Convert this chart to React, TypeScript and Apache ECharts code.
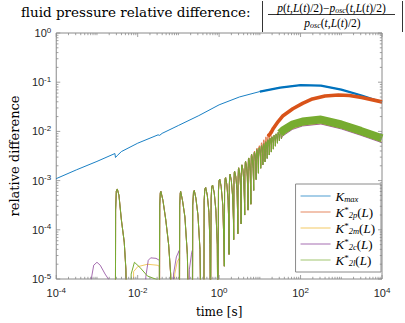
import React, { useEffect, useRef } from "react";
import * as echarts from "echarts";

// ---- axis ranges (log10 units) ----
const X_MIN = -4;
const X_MAX = 4;
const Y_MIN = -5;
const Y_MAX = 0;
const X_LABEL_STEP = 2;
const Y_LABEL_STEP = 1;

// ---- series values: [log10(time [s]), log10(relative difference)] ----
const kmaxLog: number[][] = [
  [-4, -2.96], [-3.5, -2.78], [-3, -2.61], [-2.56, -2.45], [-2.545, -2.53], [-2.5, -2.49],
  [-2.4, -2.41], [-2, -2.24], [-1.5, -2.07], [-1.46, -2.08], [-1.4, -2.04], [-1, -1.88],
  [-0.5, -1.68], [0, -1.46], [0.5, -1.3], [1, -1.19], [1.5, -1.11], [2, -1.06],
  [2.5, -1.07], [3, -1.15], [3.5, -1.27], [4, -1.41],
];

// first arch (common to the K* curves)
const archesA: number[][] = [
  [-2.548, -6], [-2.542, -3.6], [-2.525, -3.22], [-2.5, -3.17], [-2.46, -3.3], [-2.4, -3.8],
  [-2.33, -4.25], [-2.29, -4.8], [-2.265, -6],
];
// second arch
const archesB: number[][] = [
  [-1.465, -6], [-1.458, -3.5], [-1.445, -3.25], [-1.43, -3.22], [-1.38, -3.4], [-1.31, -3.8],
  [-1.24, -4.3], [-1.19, -4.9], [-1.17, -6],
];
// third arch
const archesC: number[][] = [
  [-0.975, -6], [-0.968, -3.5], [-0.955, -3.26], [-0.945, -3.22], [-0.9, -3.4], [-0.84, -3.74],
  [-0.78, -4.5], [-0.745, -6],
];
// arches 4..14
const archesD: number[][] = [
  [-0.655, -6], [-0.648, -3.5], [-0.63, -3.24], [-0.61, -3.2], [-0.57, -3.36], [-0.52, -3.7], [-0.47, -4.4], [-0.445, -6],
  [-0.375, -6], [-0.368, -3.4], [-0.35, -3.17], [-0.33, -3.14], [-0.29, -3.3], [-0.25, -3.65], [-0.225, -4.3], [-0.212, -6],
  [-0.202, -6], [-0.196, -3.35], [-0.18, -3.12], [-0.16, -3.09], [-0.12, -3.25], [-0.08, -3.6], [-0.045, -4.3], [-0.03, -6],
  [-0.022, -6], [-0.016, -3.2], [0, -3.0], [0.015, -2.97], [0.05, -3.12], [0.09, -3.5], [0.115, -4.2], [0.128, -4.74],
  [0.134, -3.2], [0.148, -2.96], [0.16, -2.94], [0.19, -3.08], [0.22, -3.4], [0.238, -3.9], [0.243, -4.5],
  [0.25, -3.1], [0.26, -2.9], [0.27, -2.87], [0.3, -3.0], [0.33, -3.3], [0.352, -3.8], [0.358, -4.2],
  [0.365, -3.0], [0.372, -2.84], [0.38, -2.81], [0.41, -2.92], [0.44, -3.2], [0.455, -3.7], [0.46, -4.08],
  [0.466, -2.95], [0.474, -2.77], [0.48, -2.74], [0.505, -2.85], [0.525, -3.1], [0.537, -3.5], [0.54, -3.88],
  [0.545, -2.9], [0.553, -2.71], [0.56, -2.68], [0.585, -2.78], [0.605, -3.0], [0.622, -3.4], [0.628, -3.7],
  [0.633, -2.85], [0.642, -2.64], [0.65, -2.61], [0.672, -2.7], [0.692, -2.92], [0.705, -3.3], [0.71, -3.6],
  [0.713, -2.75], [0.72, -2.57], [0.727, -2.54], [0.745, -2.62], [0.762, -2.82], [0.775, -3.2], [0.78, -3.48],
];
// later, dense oscillations of K*_2l, K*_2m, K*_2c
const archesE: number[][] = [
  [0.783, -2.7], [0.79, -2.5], [0.797, -2.47], [0.815, -2.55], [0.832, -2.75], [0.845, -3.0], [0.85, -3.2],
  [0.853, -2.6], [0.86, -2.44], [0.867, -2.42], [0.883, -2.5], [0.9, -2.68], [0.908, -2.98],
  [0.912, -2.55], [0.918, -2.39], [0.925, -2.37], [0.94, -2.43], [0.955, -2.58], [0.965, -2.85],
  [0.97, -2.5], [0.978, -2.35], [0.985, -2.33], [1.0, -2.38], [1.015, -2.52], [1.022, -2.75],
  [1.027, -2.45], [1.034, -2.31], [1.04, -2.29], [1.055, -2.34], [1.068, -2.47], [1.075, -2.68],
  [1.08, -2.4], [1.088, -2.27], [1.095, -2.25], [1.11, -2.3], [1.122, -2.42], [1.128, -2.62],
  [1.133, -2.36], [1.141, -2.23], [1.148, -2.21], [1.162, -2.26], [1.174, -2.37], [1.18, -2.55],
  [1.185, -2.32], [1.193, -2.19], [1.2, -2.17], [1.214, -2.22], [1.226, -2.32], [1.232, -2.48],
  [1.237, -2.28], [1.244, -2.16], [1.25, -2.14], [1.264, -2.19], [1.276, -2.28], [1.282, -2.42],
  [1.287, -2.24], [1.294, -2.13], [1.3, -2.11], [1.314, -2.16], [1.326, -2.24], [1.332, -2.36],
  [1.337, -2.2], [1.344, -2.1], [1.35, -2.08], [1.364, -2.13], [1.376, -2.2], [1.382, -2.3],
  [1.387, -2.16], [1.394, -2.07], [1.4, -2.05], [1.414, -2.1], [1.426, -2.17], [1.432, -2.24],
  [1.437, -2.12], [1.444, -2.04], [1.45, -2.02], [1.47, -2.08], [1.48, -2.19],
  [1.49, -2.08], [1.5, -2.0], [1.52, -2.05], [1.53, -2.15],
];

// K*_2p own oscillations and band
const k2pOsc: number[][] = [
  [0.783, -2.7], [0.79, -2.5], [0.8, -2.46], [0.818, -2.52], [0.835, -2.7], [0.848, -3.0],
  [0.855, -2.6], [0.862, -2.42], [0.87, -2.4], [0.885, -2.46], [0.9, -2.62], [0.91, -2.9],
  [0.915, -2.52], [0.922, -2.36], [0.93, -2.34], [0.945, -2.4], [0.958, -2.55], [0.967, -2.8],
  [0.972, -2.45], [0.98, -2.31], [0.988, -2.29], [1.002, -2.34], [1.015, -2.48], [1.022, -2.7],
  [1.028, -2.4], [1.036, -2.25], [1.044, -2.23], [1.058, -2.28], [1.07, -2.4], [1.076, -2.6],
  [1.082, -2.33], [1.09, -2.19], [1.098, -2.17], [1.112, -2.22], [1.124, -2.33], [1.13, -2.5],
  [1.136, -2.27], [1.143, -2.13], [1.15, -2.11], [1.164, -2.16], [1.176, -2.26], [1.182, -2.42],
  [1.188, -2.2], [1.195, -2.07], [1.202, -2.05], [1.216, -2.1], [1.228, -2.19], [1.234, -2.33],
  [1.24, -2.13], [1.247, -2.01], [1.254, -1.99], [1.268, -2.04], [1.28, -2.12], [1.286, -2.24],
];
const k2pBand: number[][] = [
  [1.2, -2.1], [1.28, -2.02], [1.33, -1.94], [1.45, -1.8], [1.57, -1.68], [1.81, -1.54], [2.05, -1.43],
  [2.29, -1.34], [2.6, -1.28], [2.93, -1.26], [3.2, -1.27], [3.5, -1.31], [4, -1.4],
];

// K*_2m own humps and tail
const k2mHump1: number[][] = [
  [-2.12, -6], [-2.1, -4.85], [-2.0, -4.75], [-1.76, -4.7], [-1.52, -4.72], [-1.468, -4.74],
];
const k2mHump2: number[][] = [[-1.1, -6], [-1.09, -4.9], [-1.03, -4.65], [-0.98, -4.58]];
const k2mTail: number[][] = [
  [1.55, -2.09], [1.8, -1.95], [2.05, -1.88], [2.5, -1.845], [3.0, -1.94], [3.48, -2.07], [4, -2.22],
];

// K*_2c own humps and tail
const k2cHump0: number[][] = [
  [-3.15, -6], [-3.14, -5.0], [-3.08, -4.72], [-3.0, -4.66], [-2.92, -4.72], [-2.8, -4.9],
  [-2.68, -5.05], [-2.66, -6],
];
const k2cHump1: number[][] = [
  [-1.81, -6], [-1.8, -4.95], [-1.74, -4.62], [-1.68, -4.57], [-1.55, -4.58], [-1.468, -4.62],
];
const k2cHump2: number[][] = [[-1.13, -6], [-1.12, -4.9], [-1.05, -4.55], [-0.98, -4.42]];
const k2cHump3: number[][] = [[-0.74, -6], [-0.73, -4.8], [-0.68, -4.5], [-0.658, -4.42]];
const k2cTail: number[][] = [
  [1.55, -2.1], [1.8, -1.96], [2.05, -1.89], [2.5, -1.85], [3.0, -1.95], [3.48, -2.08], [4, -2.23],
];

// K*_2l own hump and band
const k2lHump1: number[][] = [
  [-2.17, -6], [-2.16, -4.9], [-2.08, -4.66], [-1.95, -4.76], [-1.76, -4.94], [-1.5, -5.02], [-1.475, -6],
];
const k2lBand: number[][] = [
  [1.5, -2.04], [1.57, -1.98], [1.8, -1.86], [2.05, -1.8], [2.5, -1.76], [3.0, -1.86],
  [3.48, -1.99], [4.0, -2.14],
];

const seriesNames = ["Kmax", "K2p", "K2m", "K2c", "K2l"];
const seriesColors = ["#0072BD", "#D95319", "#EDB120", "#7E2F8E", "#77AC30"];
const legendLabels: Record<string, string> = {
  Kmax: "{k|K}{sb|max}",
  K2p: "{k|K}{sp|*}{sb|2p}{n|(}{k|L}{n|)}",
  K2m: "{k|K}{sp|*}{sb|2m}{n|(}{k|L}{n|)}",
  K2c: "{k|K}{sp|*}{sb|2c}{n|(}{k|L}{n|)}",
  K2l: "{k|K}{sp|*}{sb|2l}{n|(}{k|L}{n|)}",
};

const AXIS_COLOR = "#8a8a8a";
const TEXT_COLOR = "#262626";
const SERIF = "DejaVu Serif";
const MATH = "Liberation Serif";

function buildTicks(): number[][] {
  const t: number[][] = [];
  for (let n = X_MIN; n < X_MAX; n++) {
    for (let k = 1; k <= 9; k++) {
      t.push([n + Math.log10(k), 0, k === 1 && (n - X_MIN) % X_LABEL_STEP === 0 ? 1 : 0]);
    }
  }
  t.push([X_MAX, 0, 1]);
  for (let n = Y_MIN; n < Y_MAX; n++) {
    for (let k = 1; k <= 9; k++) {
      t.push([n + Math.log10(k), 1, k === 1 ? 1 : 0]);
    }
  }
  t.push([Y_MAX, 1, 1]);
  return t;
}

const mathRich = {
  i: { fontFamily: MATH, fontStyle: "italic", fontSize: 11.5, lineHeight: 13, fill: "#000", color: "#000" },
  n: { fontFamily: MATH, fontSize: 11.5, lineHeight: 13, fill: "#000", color: "#000" },
  sb: { fontFamily: MATH, fontStyle: "italic", fontSize: 8, lineHeight: 7, verticalAlign: "bottom", fill: "#000", color: "#000" },
};

export default function App() {
  const ref = useRef<HTMLDivElement>(null);
  useEffect(() => {
    if (!ref.current) return;
    const chart = echarts.init(ref.current, null, { renderer: "svg" });
    const line = (name: string, color: string, data: number[][], width: number, z = 2) => ({
      type: "line",
      name,
      data,
      symbol: "none",
      showSymbol: false,
      clip: true,
      z,
      lineStyle: { color, width },
      itemStyle: { color },
      emphasis: { disabled: true },
    });
    const numer =
      "{i|p}{n|(}{i|t}{n|,}{i|L}{n|(}{i|t}{n|)/2)−}{i|p}{sb|osc}{n|(}{i|t}{n|,}{i|L}{n|(}{i|t}{n|)/2)}";
    const denom = "{i|p}{sb|osc}{n|(}{i|t}{n|,}{i|L}{n|(}{i|t}{n|)/2)}";
    const supLabel = (v: number) => `{b|10}{s|${Math.round(v)}}`;
    const labelRich = {
      b: { fontFamily: "Liberation Sans", fontSize: 11, lineHeight: 14, color: TEXT_COLOR },
      s: { fontFamily: "Liberation Sans", fontSize: 8, lineHeight: 8, verticalAlign: "top", color: TEXT_COLOR },
    };
    chart.setOption({
      animation: false,
      backgroundColor: "#fff",
      grid: {
        left: 46, right: 23, top: 33, bottom: 40, show: true,
        borderColor: AXIS_COLOR, borderWidth: 1, backgroundColor: "#fff",
      },
      xAxis: {
        type: "value", min: X_MIN, max: X_MAX, interval: X_LABEL_STEP,
        axisLine: { show: false }, axisTick: { show: false }, splitLine: { show: false },
        axisLabel: { formatter: supLabel, rich: labelRich, margin: 7 },
        name: "time [s]", nameLocation: "middle", nameGap: 27,
        nameTextStyle: { fontFamily: SERIF, fontSize: 12, color: "#000" },
      },
      yAxis: {
        type: "value", min: Y_MIN, max: Y_MAX, interval: Y_LABEL_STEP,
        axisLine: { show: false }, axisTick: { show: false }, splitLine: { show: false },
        axisLabel: { formatter: supLabel, rich: labelRich, margin: 5 },
        name: "relative difference", nameLocation: "middle", nameGap: 31, nameRotate: 90,
        nameTextStyle: { fontFamily: SERIF, fontSize: 13, color: "#000" },
      },
      legend: {
        data: seriesNames,
        orient: "vertical",
        right: 24,
        top: 184,
        backgroundColor: "#fff",
        borderColor: AXIS_COLOR,
        borderWidth: 1,
        borderRadius: 0,
        padding: [5, 6, 5, 5],
        icon: "rect",
        itemWidth: 30,
        itemHeight: 1,
        itemGap: 2,
        selectedMode: false,
        itemStyle: { opacity: 0.7 },
        formatter: (name: string) => legendLabels[name],
        textStyle: {
          lineHeight: 14,
          rich: {
            k: { fontFamily: MATH, fontStyle: "italic", fontSize: 13, lineHeight: 14, color: "#000" },
            n: { fontFamily: MATH, fontSize: 13, lineHeight: 14, color: "#000" },
            sb: { fontFamily: MATH, fontStyle: "italic", fontSize: 8.5, lineHeight: 8, verticalAlign: "bottom", color: "#000" },
            sp: { fontFamily: MATH, fontSize: 9, lineHeight: 8, verticalAlign: "top", color: "#000" },
          },
        },
      },
      graphic: [
        {
          type: "text", x: 21, y: 12,
          style: {
            text: "fluid pressure relative difference:", fontFamily: SERIF, fontSize: 13.5,
            fill: "#000", verticalAlign: "middle",
          },
        },
        {
          type: "text", x: 331.5, y: 7.5,
          style: { text: numer, rich: mathRich, align: "center", verticalAlign: "middle" },
        },
        {
          type: "text", x: 332.5, y: 22.5,
          style: { text: denom, rich: mathRich, align: "center", verticalAlign: "middle" },
        },
        { type: "line", shape: { x1: 268, y1: 14.5, x2: 395, y2: 14.5 }, style: { stroke: "#000", lineWidth: 0.8 } },
        { type: "line", shape: { x1: 262.5, y1: 1, x2: 262.5, y2: 32 }, style: { stroke: "#000", lineWidth: 0.8 } },
        { type: "line", shape: { x1: 402.5, y1: 1, x2: 402.5, y2: 32 }, style: { stroke: "#000", lineWidth: 0.8 } },
      ],
      series: [
        line("Kmax", seriesColors[0], kmaxLog, 0.9),
        line("_kmaxBand", seriesColors[0], kmaxLog.filter((p) => p[0] >= 1), 2.2),
        line("K2p", seriesColors[1], [...archesA, ...archesB, ...archesC, ...archesD, ...k2pOsc], 0.7),
        line("_k2pBand", seriesColors[1], k2pBand, 3.6),
        line("K2m", seriesColors[2], [...archesA, ...k2mHump1, ...archesB, ...k2mHump2, ...archesC, ...archesD, ...archesE, ...k2mTail], 0.7),
        line("K2c", seriesColors[3], [...k2cHump0, ...archesA, ...k2cHump1, ...archesB, ...k2cHump2, ...archesC, ...k2cHump3, ...archesD, ...archesE, ...k2cTail], 0.7),
        line("K2l", seriesColors[4], [...archesA, ...k2lHump1, ...archesB, ...archesC, ...archesD, ...archesE], 1),
        line("_k2lBand", seriesColors[4], k2lBand, 8),
        {
          type: "custom",
          name: "_ticks",
          data: buildTicks(),
          clip: false,
          silent: true,
          z: 5,
          renderItem: (_params: any, api: any) => {
            const v = api.value(0);
            const axis = api.value(1);
            const len = api.value(2) ? 4 : 2.2;
            const st = { stroke: AXIS_COLOR, lineWidth: 0.8 };
            if (axis === 0) {
              const a = api.coord([v, Y_MIN]);
              const b = api.coord([v, Y_MAX]);
              return {
                type: "group",
                children: [
                  { type: "line", shape: { x1: a[0], y1: a[1], x2: a[0], y2: a[1] - len }, style: st },
                  { type: "line", shape: { x1: b[0], y1: b[1], x2: b[0], y2: b[1] + len }, style: st },
                ],
              };
            }
            const a = api.coord([X_MIN, v]);
            const b = api.coord([X_MAX, v]);
            return {
              type: "group",
              children: [
                { type: "line", shape: { x1: a[0], y1: a[1], x2: a[0] + len, y2: a[1] }, style: st },
                { type: "line", shape: { x1: b[0], y1: b[1], x2: b[0] - len, y2: b[1] }, style: st },
              ],
            };
          },
        },
      ],
    });
    return () => chart.dispose();
  }, []);
  return (
    <div
      ref={ref}
      style={{ position: "fixed", left: 0, top: 0, width: 405, height: 323, background: "#fff" }}
    />
  );
}
